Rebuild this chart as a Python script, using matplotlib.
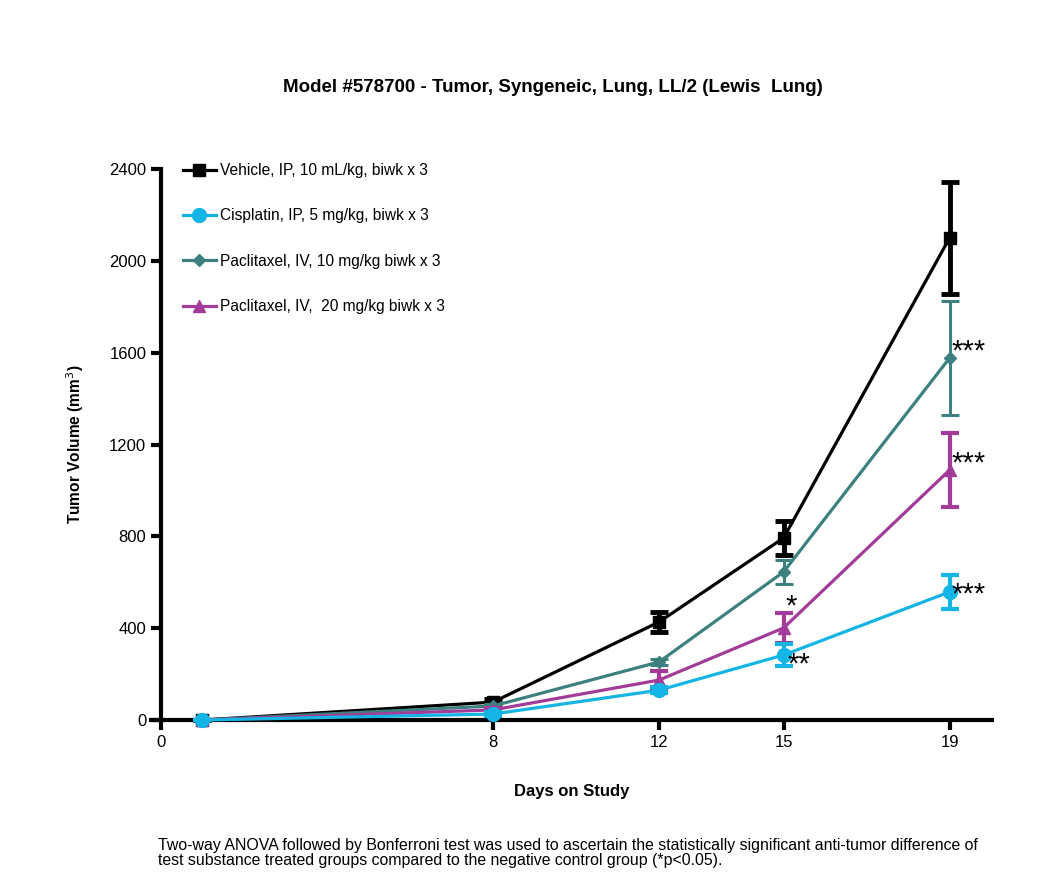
import numpy as np
import matplotlib.pyplot as plt
from matplotlib.lines import Line2D

plt.rcParams['font.family'] = ['Liberation Sans', 'DejaVu Sans']

days = [1, 8, 12, 15, 19]

vehicle = [0, 78, 427, 793, 2100]
vehicle_err = [0, 12, 45, 74, 245]
cisplatin = [0, 26, 130, 283, 558]
cisplatin_err = [0, 8, 12, 48, 75]
pac10 = [0, 61, 253, 645, 1577]
pac10_err = [0, 8, 12, 52, 248]
pac20 = [0, 44, 174, 401, 1089]
pac20_err = [0, 8, 40, 67, 163]

labels = ["Vehicle, IP, 10 mL/kg, biwk x 3",
          "Cisplatin, IP, 5 mg/kg, biwk x 3",
          "Paclitaxel, IV, 10 mg/kg biwk x 3",
          "Paclitaxel, IV,  20 mg/kg biwk x 3"]

# significance marks: (series index, day index, text)
stars = [(2, 4, "***"), (3, 4, "***"), (1, 4, "***"),
         (1, 3, "**"), (3, 3, "*")]

series = [
    (vehicle, vehicle_err, "#000000", "s", 8, 3.5, 3),
    (cisplatin, cisplatin_err, "#14b4e4", "o", 10, 3.0, 6),
    (pac10, pac10_err, "#3d8080", "D", 6, 2.2, 4),
    (pac20, pac20_err, "#a23c98", "^", 9, 3.0, 5),
]

fig = plt.figure(figsize=(10.5, 8.92), dpi=100)
ax = fig.add_axes([0.1434, 0.1928, 0.8013, 0.6177])

handles = []
for (vals, err, col, mk, ms, elw, z), lab in zip(series, labels):
    ax.errorbar(days, vals, yerr=err, color=col, marker=mk, markersize=ms,
                linewidth=2.3, elinewidth=elw, capsize=6.5, capthick=elw,
                clip_on=False, zorder=z)
    handles.append(Line2D([], [], color=col, marker=mk, markersize=ms,
                          linewidth=2.3, label=lab))

# pixel offsets of star centre from the point, per mark
star_off = {(2, 4): (2, 10), (3, 4): (2, 10), (1, 4): (2, 1),
            (1, 3): (4, -6), (3, 3): (2, 25)}
for si, di, t in stars:
    dx, dy = star_off[(si, di)]
    ax.annotate(t, (days[di], series[si][0][di]), xytext=(dx, dy - 12),
                textcoords='offset pixels', fontsize=21, ha='left',
                va='baseline', annotation_clip=False, zorder=10)

ax.set_xlim(-0.25, 20.02)
ax.set_ylim(0, 2400)
ax.set_xticks([0, 8, 12, 15, 19])
ax.set_yticks(np.arange(0, 2401, 400))
ax.spines['left'].set_position(('data', 0))
ax.spines['top'].set_visible(False)
ax.spines['right'].set_visible(False)
ax.spines['left'].set_linewidth(3)
ax.spines['bottom'].set_linewidth(3)
ax.tick_params(direction='out', width=3, length=7, labelsize=12)

ax.set_ylabel("Tumor Volume (mm$^3$)", fontsize=11.2, fontweight='bold', labelpad=17)
ax.set_xlabel("Days on Study", fontsize=12, fontweight='bold', labelpad=25)

ax.legend(handles=handles, loc='upper left', frameon=False, fontsize=11.2,
          labelspacing=1.95, handlelength=2.1, handletextpad=0.25,
          borderpad=0, borderaxespad=0, bbox_to_anchor=(0.0385, 1.011))

fig.text(0.527, 0.902, "Model #578700 - Tumor, Syngeneic, Lung, LL/2 (Lewis  Lung)",
         ha='center', va='center', fontsize=13.5, fontweight='bold')
fig.text(0.150, 0.027,
         "Two-way ANOVA followed by Bonferroni test was used to ascertain the statistically significant anti-tumor difference of\n"
         "test substance treated groups compared to the negative control group (*p<0.05).",
         ha='left', va='bottom', fontsize=11.4, linespacing=1.0)

fig.savefig("out.png", dpi=100)
